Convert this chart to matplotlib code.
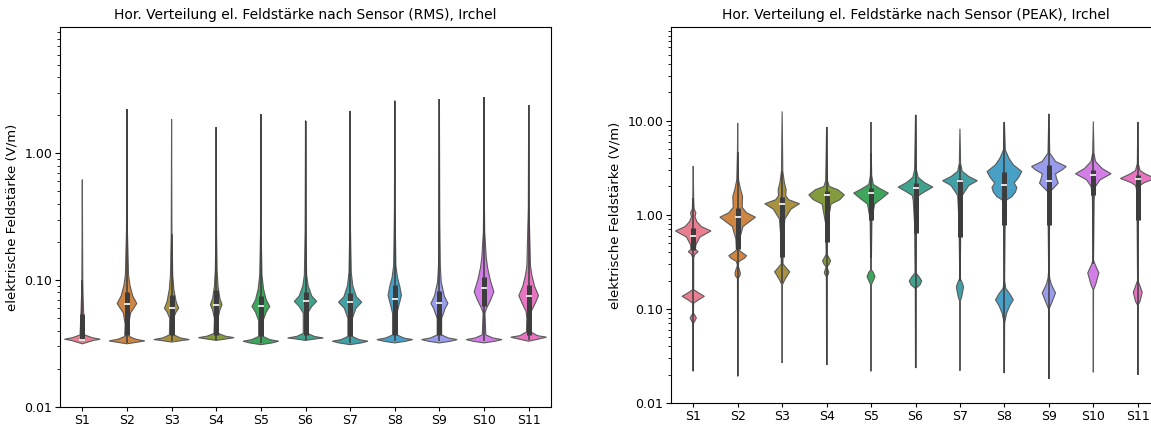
import numpy as np
import matplotlib.pyplot as plt
import seaborn as sns
from matplotlib.ticker import StrMethodFormatter, NullFormatter, LogLocator

sensors = ["S1", "S2", "S3", "S4", "S5", "S6", "S7", "S8", "S9", "S10", "S11"]

# violin outline per sensor: (value in V/m, half width) from bottom to top
rms_profiles = [
    [(0.0315, 0), (0.0335, 0.25), (0.0342, 0.40), (0.0352, 0.22), (0.037, 0.05), (0.045, 0.04), (0.055, 0.03), (0.08, 0.015), (0.1, 0.01), (0.62, 0)],
    [(0.0315, 0), (0.0325, 0.25), (0.0332, 0.40), (0.0342, 0.2), (0.036, 0.05), (0.045, 0.04), (0.055, 0.08), (0.0655, 0.22), (0.075, 0.13), (0.09, 0.07), (0.11, 0.035), (0.25, 0.01), (2.23, 0)],
    [(0.0325, 0), (0.0335, 0.25), (0.034, 0.40), (0.035, 0.2), (0.037, 0.05), (0.05, 0.04), (0.056, 0.1), (0.060, 0.16), (0.068, 0.1), (0.085, 0.05), (0.11, 0.025), (0.23, 0.008), (1.86, 0)],
    [(0.0335, 0), (0.0345, 0.25), (0.0352, 0.40), (0.0362, 0.2), (0.038, 0.05), (0.05, 0.04), (0.058, 0.08), (0.064, 0.13), (0.072, 0.08), (0.09, 0.04), (0.12, 0.02), (0.23, 0.008), (1.60, 0)],
    [(0.031, 0), (0.032, 0.25), (0.033, 0.40), (0.034, 0.2), (0.036, 0.05), (0.048, 0.05), (0.056, 0.12), (0.062, 0.20), (0.070, 0.12), (0.085, 0.06), (0.11, 0.025), (0.23, 0.008), (2.03, 0)],
    [(0.0335, 0), (0.0345, 0.25), (0.035, 0.40), (0.036, 0.2), (0.038, 0.05), (0.055, 0.05), (0.062, 0.14), (0.068, 0.25), (0.075, 0.14), (0.09, 0.06), (0.11, 0.025), (0.25, 0.008), (1.81, 0)],
    [(0.031, 0), (0.032, 0.25), (0.033, 0.40), (0.034, 0.2), (0.036, 0.05), (0.05, 0.05), (0.06, 0.13), (0.067, 0.26), (0.074, 0.14), (0.09, 0.06), (0.115, 0.025), (0.25, 0.008), (2.16, 0)],
    [(0.032, 0), (0.033, 0.25), (0.034, 0.40), (0.035, 0.2), (0.037, 0.05), (0.055, 0.05), (0.065, 0.10), (0.076, 0.15), (0.09, 0.11), (0.105, 0.06), (0.13, 0.025), (0.35, 0.008), (2.6, 0)],
    [(0.032, 0), (0.033, 0.25), (0.034, 0.40), (0.035, 0.2), (0.037, 0.05), (0.05, 0.05), (0.06, 0.13), (0.0655, 0.19), (0.075, 0.11), (0.097, 0.04), (0.13, 0.02), (0.3, 0.008), (2.67, 0)],
    [(0.032, 0), (0.033, 0.25), (0.034, 0.40), (0.035, 0.2), (0.037, 0.04), (0.055, 0.02), (0.0604, 0.06), (0.07, 0.15), (0.081, 0.22), (0.10, 0.14), (0.125, 0.08), (0.15, 0.05), (0.24, 0.015), (0.5, 0.005), (2.78, 0)],
    [(0.033, 0), (0.0345, 0.25), (0.0355, 0.40), (0.0365, 0.2), (0.039, 0.05), (0.05, 0.04), (0.057, 0.06), (0.066, 0.15), (0.0755, 0.22), (0.09, 0.13), (0.11, 0.07), (0.13, 0.04), (0.37, 0.008), (2.4, 0)],
]
rms_q1 = [0.034, 0.037, 0.037, 0.037, 0.036, 0.037, 0.036, 0.037, 0.037, 0.062, 0.037]
rms_q3 = [0.054, 0.081, 0.077, 0.083, 0.0745, 0.081, 0.079, 0.092, 0.082, 0.106, 0.0916]
rms_median = [0.034, 0.065, 0.060, 0.064, 0.062, 0.068, 0.067, 0.071, 0.066, 0.087, 0.0755]
rms_whis_lo = [0.033, 0.032, 0.033, 0.034, 0.032, 0.034, 0.032, 0.033, 0.033, 0.033, 0.034]
rms_whis_hi = [0.10, 2.23, 0.23, 1.60, 2.03, 1.81, 2.16, 2.6, 2.67, 2.78, 2.4]

peak_profiles = [
    [(0.0217, 0), (0.07, 0.005), (0.075, 0.04), (0.080, 0.07), (0.085, 0.04), (0.09, 0.005), (0.115, 0.01), (0.125, 0.12), (0.136, 0.25), (0.148, 0.12), (0.16, 0.01), (0.35, 0.01), (0.38, 0.04), (0.405, 0.11), (0.43, 0.05), (0.48, 0.06), (0.58, 0.15), (0.673, 0.40), (0.75, 0.18), (0.85, 0.08), (0.95, 0.04), (1.05, 0.06), (1.15, 0.02), (1.5, 0.01), (3.3, 0)],
    [(0.0192, 0), (0.21, 0.005), (0.225, 0.05), (0.24, 0.06), (0.26, 0.04), (0.29, 0.005), (0.32, 0.03), (0.345, 0.15), (0.368, 0.20), (0.39, 0.12), (0.42, 0.03), (0.55, 0.04), (0.75, 0.12), (0.943, 0.40), (1.05, 0.20), (1.2, 0.10), (1.56, 0.11), (1.9, 0.06), (2.35, 0.02), (4.7, 0.005), (9.45, 0)],
    [(0.0266, 0), (0.18, 0.005), (0.2, 0.05), (0.228, 0.12), (0.248, 0.17), (0.27, 0.1), (0.3, 0.02), (0.5, 0.02), (0.9, 0.06), (1.15, 0.2), (1.31, 0.39), (1.45, 0.14), (1.6, 0.08), (1.84, 0.09), (2.2, 0.05), (2.88, 0.015), (12.56, 0)],
    [(0.0255, 0), (0.22, 0.005), (0.235, 0.04), (0.245, 0.05), (0.26, 0.03), (0.28, 0.01), (0.3, 0.06), (0.325, 0.09), (0.35, 0.05), (0.38, 0.01), (0.8, 0.02), (1.3, 0.1), (1.45, 0.3), (1.63, 0.40), (1.85, 0.25), (2.0, 0.06), (2.3, 0.02), (8.57, 0)],
    [(0.0217, 0), (0.18, 0.005), (0.2, 0.05), (0.22, 0.09), (0.245, 0.05), (0.26, 0.005), (0.9, 0.02), (1.3, 0.08), (1.5, 0.25), (1.70, 0.39), (1.9, 0.2), (2.1, 0.05), (2.6, 0.015), (4.5, 0.005), (9.69, 0)],
    [(0.0235, 0), (0.165, 0.005), (0.18, 0.1), (0.198, 0.14), (0.22, 0.08), (0.24, 0.01), (0.8, 0.02), (1.4, 0.05), (1.6, 0.07), (1.75, 0.2), (1.97, 0.39), (2.2, 0.2), (2.5, 0.06), (3.0, 0.02), (11.6, 0)],
    [(0.022, 0), (0.12, 0.005), (0.135, 0.04), (0.16, 0.07), (0.172, 0.08), (0.19, 0.05), (0.21, 0.005), (0.8, 0.02), (1.6, 0.05), (2.05, 0.2), (2.30, 0.39), (2.55, 0.2), (2.9, 0.05), (3.5, 0.015), (8.22, 0)],
    [(0.0208, 0), (0.0708, 0.005), (0.09, 0.05), (0.108, 0.12), (0.125, 0.2), (0.145, 0.12), (0.165, 0.03), (0.2, 0.005), (1.2, 0.02), (1.44, 0.05), (1.56, 0.17), (1.75, 0.25), (1.95, 0.28), (2.17, 0.22), (2.5, 0.32), (2.88, 0.39), (3.4, 0.2), (4.0, 0.1), (4.9, 0.02), (9.7, 0)],
    [(0.0181, 0), (0.1, 0.005), (0.115, 0.06), (0.1476, 0.15), (0.18, 0.06), (0.21, 0.02), (0.25, 0.005), (1.3, 0.02), (1.77, 0.03), (1.95, 0.12), (2.17, 0.21), (2.45, 0.17), (2.73, 0.15), (3.0, 0.3), (3.26, 0.39), (3.69, 0.15), (4.53, 0.02), (11.9, 0)],
    [(0.0212, 0), (0.16, 0.005), (0.18, 0.05), (0.2408, 0.125), (0.296, 0.04), (0.33, 0.005), (1.5, 0.02), (2.0, 0.05), (2.35, 0.15), (2.73, 0.40), (3.1, 0.2), (3.69, 0.05), (4.5, 0.015), (9.84, 0)],
    [(0.0200, 0), (0.11, 0.005), (0.12, 0.05), (0.150, 0.10), (0.18, 0.04), (0.2, 0.005), (1.8, 0.02), (2.05, 0.05), (2.20, 0.15), (2.43, 0.39), (2.75, 0.15), (2.96, 0.05), (3.5, 0.01), (9.6, 0)],
]
peak_q1 = [0.42, 0.43, 0.36, 0.52, 0.87, 0.64, 0.58, 0.78, 0.78, 1.63, 0.88]
peak_q3 = [0.72, 1.18, 1.56, 1.77, 1.92, 2.2, 2.4, 2.88, 3.40, 3.01, 2.66]
peak_median = [0.60, 0.94, 1.31, 1.63, 1.70, 1.92, 2.28, 2.05, 2.31, 2.66, 2.43]
peak_whis_lo = [0.0217, 0.0192, 0.19, 0.0255, 0.35, 0.0235, 0.2, 0.0208, 0.0181, 0.3, 0.0200]
peak_whis_hi = [1.5, 4.7, 2.9, 8.57, 4.5, 11.6, 3.5, 9.7, 11.9, 4.5, 9.6]

colors = sns.color_palette("husl", len(sensors), desat=0.8)


def violins(ax, profiles, q1, q3, med, wlo, whi, title, ytop):
    ax.set_yscale("log")
    for i, prof in enumerate(profiles):
        vals = np.array([p[0] for p in prof])
        hw = np.array([p[1] for p in prof])
        xs = np.concatenate([i - hw, (i + hw)[::-1]])
        ys = np.concatenate([vals, vals[::-1]])
        ax.fill(xs, ys, facecolor=colors[i], edgecolor="#5a5a5a", lw=0.8, zorder=2)
        ax.plot([i, i], [wlo[i], whi[i]], color="#3d3d3d", lw=1.1, zorder=3, solid_capstyle="butt")
        ax.plot([i, i], [q1[i], q3[i]], color="#3d3d3d", lw=3.6, zorder=3, solid_capstyle="butt")
        ax.plot(i, med[i], marker="_", color="white", ms=4, mew=1.2, zorder=4)
    ax.set_xlim(-0.5, len(profiles) - 0.5)
    ax.set_ylim(0.01, ytop)
    ax.set_xticks(range(len(sensors)))
    ax.set_xticklabels(sensors)
    ax.tick_params(labelsize=9, pad=2)
    ax.tick_params(axis="x", length=3)
    ax.yaxis.set_major_locator(LogLocator(base=10))
    ax.yaxis.set_major_formatter(StrMethodFormatter("{x:.2f}"))
    ax.yaxis.set_minor_formatter(NullFormatter())
    ax.set_ylabel("elektrische Feldstärke (V/m)", fontsize=9.5)
    ax.set_title(title, fontsize=10)


fig = plt.figure(figsize=(11.51, 4.25), dpi=100)
ax1 = fig.add_axes([60 / 1151, 18 / 425, 491 / 1151, 380 / 425])
ax2 = fig.add_axes([671 / 1151, 22 / 425, 489 / 1151, 376 / 425])

violins(ax1, rms_profiles, rms_q1, rms_q3, rms_median, rms_whis_lo, rms_whis_hi,
        "Hor. Verteilung el. Feldstärke nach Sensor (RMS), Irchel", 9.9)
violins(ax2, peak_profiles, peak_q1, peak_q3, peak_median, peak_whis_lo, peak_whis_hi,
        "Hor. Verteilung el. Feldstärke nach Sensor (PEAK), Irchel", 99)

fig.savefig("out.png", dpi=100)
